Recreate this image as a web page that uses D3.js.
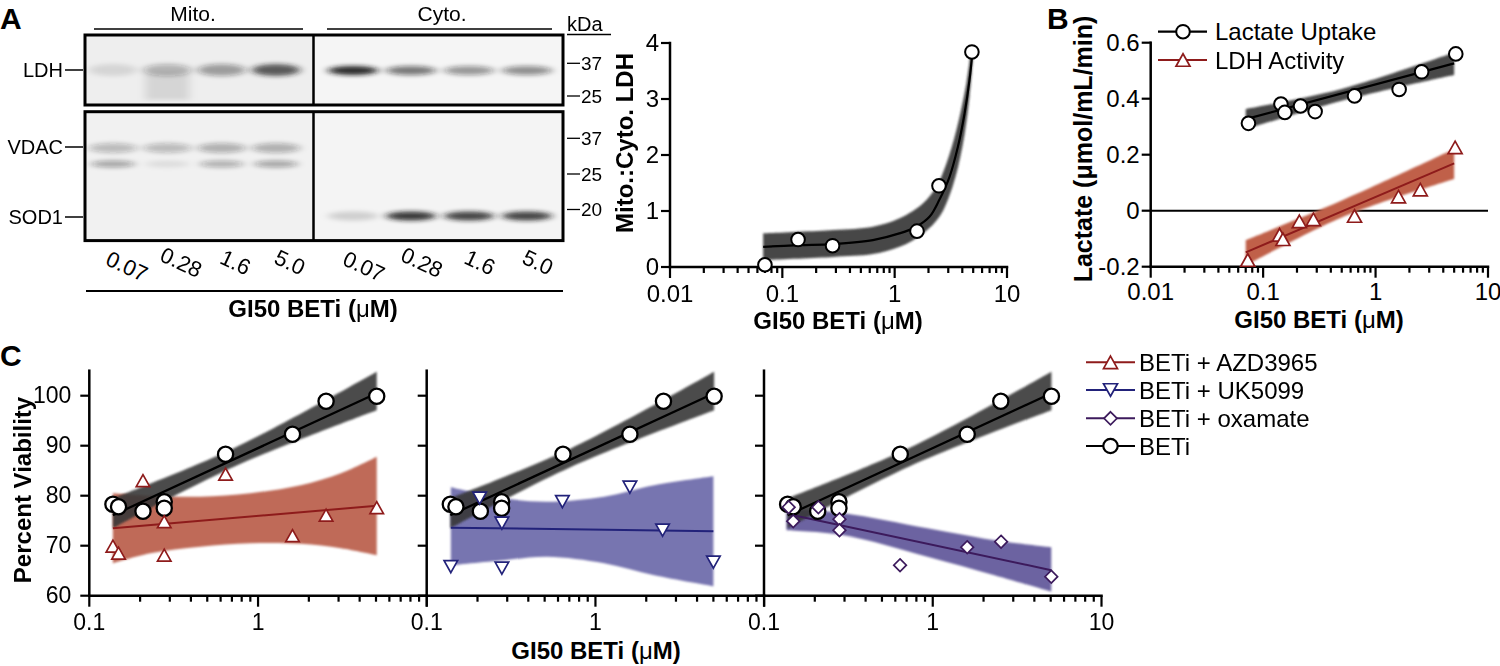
<!DOCTYPE html>
<html><head><meta charset="utf-8">
<script src="https://cdn.jsdelivr.net/npm/d3@7"></script>
<style>
body{margin:0;background:#fff}
svg{display:block}
text{fill:#000}
</style>
</head><body><script>
// ================= DATA =================
// Panel A - western blot
const laneLabels = ["0.07","0.28","1.6","5.0"];
const ldhMito   = [0.10,0.28,0.38,0.70];
const ldhCyto   = [0.90,0.55,0.42,0.45];
const ldhSmear  = [0,0.10,0,0];
const vdacUpper = [0.25,0.25,0.30,0.30];
const vdacLower = [0.35,0.08,0.30,0.35];
const sod1Cyto  = [0.15,0.85,0.80,0.80];
const kdaTop    = ["37","25"];
const kdaBottom = ["37","25","20"];
const blotRows  = ["LDH","VDAC","SOD1"];

// Panel A - ratio chart
const aXTicks = ["0.01","0.1","1","10"];
const aYTicks = [0,1,2,3,4];
const aDose  = [0.07,0.138,0.28,1.58,2.48,4.87];
const aRatio = [0.04,0.49,0.38,0.64,1.45,3.84];
const aFitX  = [0.0675,0.14,0.28,0.64,1.1,1.56,2.05,2.5,3.08,3.66,4.19,4.64,4.9];
const aFitY  = [0.36,0.39,0.41,0.48,0.60,0.72,0.90,1.2,1.61,2.15,2.74,3.34,3.79];
const aBandUpX = [0.0675,0.283,0.64,1.107,1.79,2.34,2.89,3.55,4.35,4.72];
const aBandUpY = [0.60,0.66,0.72,0.87,1.14,1.43,1.85,2.45,3.28,3.80];
const aBandLoX = [0.0675,0.283,0.64,1.107,1.79,2.51,3.27,4.01,4.64,5.0];
const aBandLoY = [0.125,0.18,0.23,0.36,0.60,0.90,1.43,2.15,3.04,3.80];

// Panel B
const bXTicks = ["0.01","0.1","1","10"];
const bYTicks = [-0.2,0,0.2,0.4,0.6];
const bYLabels = ["-0.2","0","0.2","0.4","0.6"];
const uptakeDose = [0.074,0.144,0.156,0.215,0.29,0.65,1.62,2.57,5.17];
const uptakeVal  = [0.312,0.381,0.351,0.374,0.354,0.41,0.433,0.496,0.56];
const ldhActDose = [0.073,0.14,0.15,0.21,0.28,0.65,1.6,2.5,5.1];
const ldhActVal  = [-0.176,-0.086,-0.102,-0.038,-0.031,-0.019,0.05,0.075,0.226];
const uptakeFitX = [0.07,5.0];
const uptakeFitY = [0.327,0.526];
const uptakeBandX = [0.07,0.5,5.0];
const uptakeBandUp = [0.363,0.435,0.565];
const uptakeBandLo = [0.291,0.393,0.485];
const ldhFitX = [0.07,5.0];
const ldhFitY = [-0.149,0.169];
const ldhBandX = [0.07,0.5,5.0];
const ldhBandUp = [-0.105,0.036,0.22];
const ldhBandLo = [-0.196,-0.024,0.113];

// Panel C
const cYTicks = [60,70,80,90,100];
const betiDose = [0.138,0.149,0.208,0.278,0.278,0.642,1.6,2.53,5.05];
const betiViab = [78.3,77.8,76.9,78.8,77.5,88.3,92.3,98.9,99.9];
const betiFitX = [0.138,5.05];
const betiFitY = [76.1,100.5];
const betiBandX = [0.138,0.72,5.05];
const betiBandUp = [79.5,89.5,104.8];
const betiBandLo = [73.5,85.8,97.1];

const azdDose = [0.138,0.149,0.208,0.278,0.278,0.642,1.6,2.53,5.05];
const azdViab = [69.9,68.5,83.0,74.8,68.1,84.3,72.0,76.1,77.6];
const azdFitX = [0.138,5.05];
const azdFitY = [73.5,78.0];
const azdBandX = [0.138,0.23,0.455,0.9,1.79,3.1,5.05];
const azdBandUp = [80.5,80.0,79.8,80.5,82.1,84.5,87.8];
const azdBandLo = [66.5,68.5,69.8,70.5,70.4,69.5,68.1];

const ukDose = [0.139,0.206,0.279,0.279,0.637,1.6,2.5,5.0];
const ukViab = [65.8,79.5,74.5,65.5,78.8,81.7,73.1,66.7];
const ukFitX = [0.139,5.0];
const ukFitY = [73.6,72.9];
const ukBandX = [0.139,0.286,0.52,1.125,2.23,5.0];
const ukBandUp = [81.7,79.5,78.8,79.8,82.1,83.9];
const ukBandLo = [66.1,67.1,67.8,66.5,64.1,61.9];

const oxDose = [0.14,0.149,0.21,0.28,0.28,0.64,1.6,2.54,5.04];
const oxViab = [77.7,74.9,77.7,75.3,73.1,66.1,69.7,70.8,63.8];
const oxFitX = [0.14,5.04];
const oxFitY = [76.3,65.1];
const oxBandX = [0.136,0.297,0.93,2.32,5.04];
const oxBandUp = [77.5,76.5,73.5,71.1,69.7];
const oxBandLo = [73.1,72.1,67.8,64.1,60.8];

const cLegend = ["BETi + AZD3965","BETi + UK5099","BETi + oxamate","BETi"];

// ================= STYLE =================
const FONT = '"Liberation Sans", Arial, Helvetica, sans-serif';
const RED = "#8e1b1b", BLUE = "#22227a", PURPLE = "#3c1a5c";
const RED_BAND = "#bf6a58", BLUE_BAND = "#7774b0", PURPLE_BAND = "#6c63a1", BLACK_BAND = "#383838", B_RED_BAND = "#c0604a";

const svg = d3.select("body").append("svg").attr("width",1500).attr("height",666).style("font-family",FONT);
const defs = svg.append("defs");
defs.append("filter").attr("id","soft").attr("x","-5%").attr("y","-5%").attr("width","110%").attr("height","110%")
  .append("feGaussianBlur").attr("stdDeviation",1.1);
defs.append("filter").attr("id","blotBand").attr("x","-50%").attr("y","-150%").attr("width","200%").attr("height","400%")
  .append("feGaussianBlur").attr("stdDeviation","4 2.2");

// ================= HELPERS =================
function isMajor(v){ const l=Math.log10(v); return Math.abs(l-Math.round(l))<1e-6; }
function xAxisLog(g, x, yPos, labels, fs, labelDy){
  const ticks = x.ticks();
  g.append("line").attr("x1",x.range()[0]).attr("x2",x.range()[1]).attr("y1",yPos).attr("y2",yPos)
    .attr("stroke","#000").attr("stroke-width",2.5).attr("stroke-linecap","square");
  g.selectAll(null).data(ticks).join("line")
    .attr("x1",d=>x(d)).attr("x2",d=>x(d)).attr("y1",yPos).attr("y2",d=>yPos+(isMajor(d)?11:6))
    .attr("stroke","#000").attr("stroke-width",2.2);
  g.selectAll(null).data(labels).join("text")
    .attr("x",d=>x(+d)).attr("y",yPos+labelDy).attr("text-anchor","middle").attr("font-size",fs).text(d=>d);
}
function yAxisLin(g, y, xPos, ticks, labels, fs, labelOff){
  g.append("line").attr("x1",xPos).attr("x2",xPos).attr("y1",y.range()[0]).attr("y2",y.range()[1])
    .attr("stroke","#000").attr("stroke-width",2.5).attr("stroke-linecap","square");
  g.selectAll(null).data(ticks).join("line")
    .attr("x1",xPos-9).attr("x2",xPos).attr("y1",d=>y(d)).attr("y2",d=>y(d))
    .attr("stroke","#000").attr("stroke-width",2.2);
  if(labels){
    g.selectAll(null).data(ticks).join("text")
      .attr("x",xPos-labelOff).attr("y",d=>y(d)).attr("dy","0.33em").attr("text-anchor","end")
      .attr("font-size",fs).text((d,i)=>labels[i]);
  }
}
function gi50Title(g, x, y, fs){
  const t = g.append("text").attr("x",x).attr("y",y).attr("text-anchor","middle").attr("font-size",fs).attr("font-weight","bold");
  t.append("tspan").text("GI50 BETi (");
  t.append("tspan").attr("font-weight","normal").text("μ");
  t.append("tspan").text("M)");
}
function bandPath(x, y, upX, upY, loX, loY){
  const ln = d3.line().curve(d3.curveCatmullRom);
  const up = ln(upX.map((d,i)=>[x(d),y(upY[i])]));
  const lo = ln(loX.map((d,i)=>[x(d),y(loY[i])]).reverse());
  return up + "L" + lo.slice(1) + "Z";
}
function triUp(w,h){ return `M0,${-h/2}L${w/2},${h/2}L${-w/2},${h/2}Z`; }
function triDown(w,h){ return `M0,${h/2}L${w/2},${-h/2}L${-w/2},${-h/2}Z`; }
function diamond(s){ return `M0,${-s}L${s},0L0,${s}L${-s},0Z`; }
function circles(g, xs, ys, x, y, r, sw){
  g.selectAll(null).data(xs).join("circle").attr("cx",d=>x(d)).attr("cy",(d,i)=>y(ys[i]))
    .attr("r",r).attr("fill","#fff").attr("stroke","#000").attr("stroke-width",sw);
}
function symbols(g, xs, ys, x, y, path, color, sw){
  g.selectAll(null).data(xs).join("path").attr("d",path)
    .attr("transform",(d,i)=>`translate(${x(d)},${y(ys[i])})`)
    .attr("fill","#fff").attr("stroke",color).attr("stroke-width",sw).attr("stroke-linejoin","miter");
}
function fitLine(g, x, y, fx, fy, color, sw){
  g.append("path").attr("d",d3.line()(fx.map((d,i)=>[x(d),y(fy[i])])))
    .attr("fill","none").attr("stroke",color).attr("stroke-width",sw);
}

// ================= PANEL LETTERS =================
svg.append("text").attr("x",0).attr("y",29).attr("font-size",30).attr("font-weight","bold").text("A");
svg.append("text").attr("x",1047).attr("y",29).attr("font-size",30).attr("font-weight","bold").text("B");
svg.append("text").attr("x",0).attr("y",366).attr("font-size",30).attr("font-weight","bold").text("C");

// ================= PANEL A BLOT =================
const blot = svg.append("g");
const mitoX = d3.scalePoint().domain(laneLabels).range([113,276]);
const cytoX = d3.scalePoint().domain(laneLabels).range([353,527]);
const boxL=85, boxR=563, divX=313.5, b1T=35, b1B=105, b2T=111.7, b2B=240.6;
// backgrounds
blot.append("rect").attr("x",boxL).attr("y",b1T).attr("width",divX-boxL).attr("height",b1B-b1T).attr("fill","#eeeeee");
blot.append("rect").attr("x",divX).attr("y",b1T).attr("width",boxR-divX).attr("height",b1B-b1T).attr("fill","#f5f5f5");
blot.append("rect").attr("x",boxL).attr("y",b2T).attr("width",divX-boxL).attr("height",b2B-b2T).attr("fill","#f1f1f1");
blot.append("rect").attr("x",divX).attr("y",b2T).attr("width",boxR-divX).attr("height",b2B-b2T).attr("fill","#f4f4f4");
const bandG = blot.append("g").attr("filter","url(#blotBand)");
function blotBands(xs, vals, yc, rx, ry){
  bandG.selectAll(null).data(vals).join("ellipse")
    .attr("cx",(d,i)=>xs(laneLabels[i])).attr("cy",yc).attr("rx",rx).attr("ry",ry)
    .attr("fill","#1a1a1a").attr("opacity",d=>d);
}
blotBands(mitoX, ldhMito, 70, 24, 6);
blotBands(cytoX, ldhCyto, 70.5, 25, 4.5);
bandG.selectAll(null).data(ldhSmear).join("rect")
  .attr("x",(d,i)=>mitoX(laneLabels[i])-22).attr("y",72).attr("width",44).attr("height",28)
  .attr("fill","#1a1a1a").attr("opacity",d=>d);
blotBands(mitoX, vdacUpper, 148, 24, 5);
blotBands(mitoX, vdacLower, 164, 22, 3.5);
blotBands(cytoX, sod1Cyto, 216, 25, 4.5);
// borders
[[b1T,b1B],[b2T,b2B]].forEach(([t,b])=>{
  blot.append("rect").attr("x",boxL).attr("y",t).attr("width",boxR-boxL).attr("height",b-t)
    .attr("fill","none").attr("stroke","#000").attr("stroke-width",3);
  blot.append("line").attr("x1",divX).attr("x2",divX).attr("y1",t).attr("y2",b).attr("stroke","#000").attr("stroke-width",2.5);
});
// header
blot.append("text").attr("x",193).attr("y",21).attr("text-anchor","middle").attr("font-size",21).text("Mito.");
blot.append("text").attr("x",442).attr("y",21).attr("text-anchor","middle").attr("font-size",21).text("Cyto.");
blot.append("line").attr("x1",94).attr("x2",303).attr("y1",29).attr("y2",29).attr("stroke","#000").attr("stroke-width",1.5);
blot.append("line").attr("x1",327).attr("x2",552).attr("y1",29).attr("y2",29).attr("stroke","#000").attr("stroke-width",1.5);
blot.append("text").attr("x",567).attr("y",31).attr("font-size",20).text("kDa");
blot.append("line").attr("x1",567).attr("x2",611).attr("y1",34.5).attr("y2",34.5).attr("stroke","#000").attr("stroke-width",1.3);
// row labels
const rowY = [70,147,217];
blotRows.forEach((r,i)=>{
  blot.append("text").attr("x",63).attr("y",rowY[i]).attr("dy","0.36em").attr("text-anchor","end").attr("font-size",20).text(r);
  blot.append("line").attr("x1",65).attr("x2",83).attr("y1",rowY[i]).attr("y2",rowY[i]).attr("stroke","#000").attr("stroke-width",1.5);
});
// kDa markers
const kdaY = [63.3,96,138.3,174,209.5];
kdaTop.concat(kdaBottom).forEach((k,i)=>{
  blot.append("line").attr("x1",567).attr("x2",580).attr("y1",kdaY[i]).attr("y2",kdaY[i]).attr("stroke","#000").attr("stroke-width",1.3);
  blot.append("text").attr("x",581).attr("y",kdaY[i]).attr("dy","0.36em").attr("font-size",19).text(k);
});
// lane labels
function laneText(xs, dx){
  laneLabels.forEach((l,i)=>{
    blot.append("text").attr("transform",`translate(${xs(l)+dx},${i===0?266:262}) rotate(25)`)
      .attr("text-anchor","middle").attr("dy","0.36em").attr("font-size",22).text(l);
  });
}
laneText(mitoX, 14); laneText(cytoX, 11);
blot.append("line").attr("x1",86).attr("x2",563).attr("y1",291).attr("y2",291).attr("stroke","#000").attr("stroke-width",1.8);
gi50Title(blot, 313, 317, 24);

// ================= PANEL A CHART =================
const gA = svg.append("g");
const ax = d3.scaleLog().domain([0.01,10]).range([670,1007]);
const ay = d3.scaleLinear().domain([0,4]).range([267,43]);
xAxisLog(gA, ax, 267, aXTicks, 24, 35);
yAxisLin(gA, ay, 670, aYTicks, aYTicks.map(String), 24, 11);
gA.append("path").attr("d",bandPath(ax,ay,aBandUpX,aBandUpY,aBandLoX,aBandLoY))
  .attr("fill",BLACK_BAND).attr("opacity",0.92).attr("filter","url(#soft)");
gA.append("path").attr("d",d3.line().curve(d3.curveCatmullRom)(aFitX.map((d,i)=>[ax(d),ay(aFitY[i])])))
  .attr("fill","none").attr("stroke","#000").attr("stroke-width",2.2);
circles(gA, aDose, aRatio, ax, ay, 6.8, 2);
gi50Title(gA, 838, 329, 24);
gA.append("text").attr("transform","translate(633,143) rotate(-90)").attr("text-anchor","middle")
  .attr("font-size",24).attr("font-weight","bold").text("Mito.:Cyto. LDH");

// ================= PANEL B =================
const gB = svg.append("g");
const bx = d3.scaleLog().domain([0.01,10]).range([1150.7,1488]);
const by = d3.scaleLinear().domain([-0.2,0.6]).range([266.7,42.7]);
xAxisLog(gB, bx, by(-0.2), bXTicks, 24, 33);
yAxisLin(gB, by, bx(0.01), bYTicks, bYLabels, 24, 11);
gB.append("line").attr("x1",bx(0.01)).attr("x2",bx(10)).attr("y1",by(0)).attr("y2",by(0)).attr("stroke","#000").attr("stroke-width",2);
gB.append("path").attr("d",bandPath(bx,by,ldhBandX,ldhBandUp,ldhBandX,ldhBandLo)).attr("fill",B_RED_BAND).attr("filter","url(#soft)");
gB.append("path").attr("d",bandPath(bx,by,uptakeBandX,uptakeBandUp,uptakeBandX,uptakeBandLo)).attr("fill",BLACK_BAND).attr("opacity",0.92).attr("filter","url(#soft)");
fitLine(gB, bx, by, ldhFitX, ldhFitY, RED, 2);
fitLine(gB, bx, by, uptakeFitX, uptakeFitY, "#000", 2.2);
circles(gB, uptakeDose, uptakeVal, bx, by, 6.8, 2);
symbols(gB, ldhActDose, ldhActVal, bx, by, triUp(14,12.5), RED, 1.7);
gi50Title(gB, 1319, 328, 24);
gB.append("text").attr("transform","translate(1092,149) rotate(-90)").attr("text-anchor","middle")
  .attr("font-size",25).attr("font-weight","bold").text("Lactate (μmol/mL/min)");
// legend B
const legB = [{t:"Lactate Uptake", y:31.7, kind:"c", col:"#000"},{t:"LDH Activity", y:60, kind:"t", col:RED}];
legB.forEach(l=>{
  gB.append("line").attr("x1",1158).attr("x2",1207).attr("y1",l.y).attr("y2",l.y).attr("stroke",l.col).attr("stroke-width",2.2);
  if(l.kind==="c") gB.append("circle").attr("cx",1183).attr("cy",l.y).attr("r",6.8).attr("fill","#fff").attr("stroke","#000").attr("stroke-width",2);
  else gB.append("path").attr("d",triUp(14,12.5)).attr("transform",`translate(1183,${l.y})`).attr("fill","#fff").attr("stroke",l.col).attr("stroke-width",1.7);
  gB.append("text").attr("x",1215).attr("y",l.y).attr("dy","0.36em").attr("font-size",24).text(l.t);
});

// ================= PANEL C =================
const cy = d3.scaleLinear().domain([60,105]).range([595.7,370.7]);
const panels = [
  {x0:89.3, dose:azdDose, val:azdViab, fx:azdFitX, fy:azdFitY, bx:azdBandX, bu:azdBandUp, bl:azdBandLo, col:RED, band:RED_BAND, sym:triUp(13.5,12), sw:1.7, labels:["0.1","1"]},
  {x0:426.7, dose:ukDose, val:ukViab, fx:ukFitX, fy:ukFitY, bx:ukBandX, bu:ukBandUp, bl:ukBandLo, col:BLUE, band:BLUE_BAND, sym:triDown(13.5,12), sw:1.7, labels:["0.1","1"]},
  {x0:764, dose:oxDose, val:oxViab, fx:oxFitX, fy:oxFitY, bx:oxBandX, bu:oxBandUp, bl:oxBandLo, col:PURPLE, band:PURPLE_BAND, sym:diamond(6.3), sw:1.7, labels:["0.1","1","10"]}
];
panels.forEach((p,pi)=>{
  const g = svg.append("g");
  const x = d3.scaleLog().domain([0.1,10]).range([p.x0,p.x0+337.5]);
  xAxisLog(g, x, cy(60), p.labels, 23, 34);
  yAxisLin(g, cy, p.x0, cYTicks, pi===0?cYTicks.map(String):null, 23, 18);
  g.append("path").attr("d",bandPath(x,cy,p.bx,p.bu,p.bx,p.bl)).attr("fill",p.band).attr("filter","url(#soft)");
  g.append("path").attr("d",bandPath(x,cy,betiBandX,betiBandUp,betiBandX,betiBandLo)).attr("fill",BLACK_BAND).attr("opacity",0.9).attr("filter","url(#soft)");
  fitLine(g, x, cy, p.fx, p.fy, p.col, 2);
  fitLine(g, x, cy, betiFitX, betiFitY, "#000", 2.3);
  circles(g, betiDose, betiViab, x, cy, 7.6, 2.3);
  symbols(g, p.dose, p.val, x, cy, p.sym, p.col, p.sw);
});
gi50Title(svg, 596, 659, 24);
svg.append("text").attr("transform","translate(31,490) rotate(-90)").attr("text-anchor","middle")
  .attr("font-size",24).attr("font-weight","bold").text("Percent Viability");
// legend C
const legY = [362.3,390,418.3,446];
const legCol = [RED,BLUE,PURPLE,"#000"];
const legSym = [triUp(14,12.5),triDown(14,12.5),diamond(6.5),null];
cLegend.forEach((t,i)=>{
  svg.append("line").attr("x1",1086).attr("x2",1135).attr("y1",legY[i]).attr("y2",legY[i]).attr("stroke",legCol[i]).attr("stroke-width",2);
  if(legSym[i]) svg.append("path").attr("d",legSym[i]).attr("transform",`translate(1110.5,${legY[i]})`).attr("fill","#fff").attr("stroke",legCol[i]).attr("stroke-width",1.7);
  else svg.append("circle").attr("cx",1110.5).attr("cy",legY[i]).attr("r",7.2).attr("fill","#fff").attr("stroke","#000").attr("stroke-width",2.2);
  svg.append("text").attr("x",1139).attr("y",legY[i]).attr("dy","0.36em").attr("font-size",24).text(t);
});
</script></body></html>
